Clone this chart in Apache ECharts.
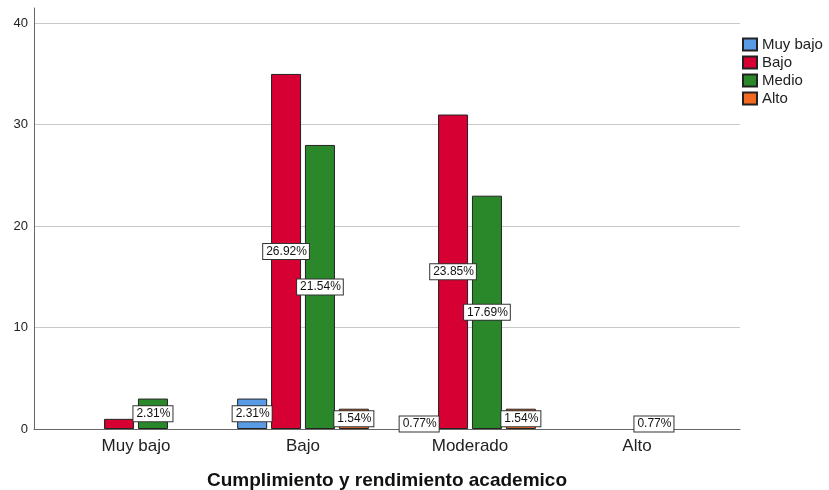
<!DOCTYPE html>
<html>
<head>
<meta charset="utf-8">
<script src="https://cdn.jsdelivr.net/npm/echarts@6/dist/echarts.min.js"></script>
<style>html,body{margin:0;padding:0;background:#fff}#c{width:829px;height:490px}</style>
</head>
<body>
<div id="c"></div>
<script>
const categories = ['Muy bajo', 'Bajo', 'Moderado', 'Alto'];
const seriesNames = ['Muy bajo', 'Bajo', 'Medio', 'Alto'];
const muyBajo = [0, 3, 1, 0];
const bajo = [1, 35, 31, 0];
const medio = [3, 28, 23, 1];
const alto = [0, 2, 2, 0];
const yTicks = [0, 10, 20, 30, 40];
const xTitle = 'Cumplimiento y rendimiento academico';
// labels hidden in the original (overlapped): [seriesIndex, categoryIndex]
const hiddenLabels = [[1, 0]];

const colors = ['#5a9be6', '#d70032', '#2a872a', '#f26a22'];
const allSeries = [muyBajo, bajo, medio, alto];
const total = allSeries.flat().reduce((a, b) => a + b, 0);
const FONT = '"Liberation Sans", Arial, sans-serif';

const chart = echarts.init(document.getElementById('c'));
const series = allSeries.map((vals, si) => ({
  name: seriesNames[si],
  type: 'bar',
  xAxisIndex: 1,
  yAxisIndex: 1,
  barWidth: 30,
  barGap: '13%',
  itemStyle: { color: colors[si], borderColor: '#222', borderWidth: 1 },
  label: {
    show: true,
    position: 'inside',
    fontFamily: FONT,
    fontSize: 12,
    color: '#111',
    backgroundColor: '#fff',
    borderColor: '#333',
    borderWidth: 1,
    padding: [2, 2, 1, 3],
    formatter: p => (p.value / total * 100).toFixed(2) + '%'
  },
  data: vals.map((v, ci) => {
    if (v === 0) return null;
    const hide = hiddenLabels.some(h => h[0] === si && h[1] === ci);
    return hide ? { value: v, label: { show: false } } : v;
  })
}));

chart.setOption({
  animation: false,
  textStyle: { fontFamily: FONT },
  legend: {
    orient: 'vertical',
    left: 742,
    top: 37,
    padding: 0,
    itemWidth: 14,
    itemHeight: 12,
    itemGap: 3,
    icon: 'rect',
    textStyle: { fontSize: 15, lineHeight: 15, color: '#222', fontFamily: FONT },
    data: seriesNames
  },
  grid: [
    { left: 34, right: 89, top: 8, bottom: 61, outerBoundsMode: 'none', containLabel: false },
    { left: 52.5, right: 108.5, top: 8, bottom: 61, outerBoundsMode: 'none', containLabel: false }
  ],
  xAxis: [
    {
      type: 'category', gridIndex: 0, data: categories,
      axisLine: { lineStyle: { color: '#666', width: 1 } },
      axisTick: { show: false }, axisLabel: { show: false },
      name: xTitle, nameLocation: 'middle', nameGap: 42,
      nameTextStyle: { fontFamily: FONT, fontSize: 19, fontWeight: 'bold', color: '#111' }
    },
    {
      type: 'category', gridIndex: 1, data: categories,
      axisLine: { show: false }, axisTick: { show: false },
      axisLabel: { fontFamily: FONT, fontSize: 17, color: '#222', margin: 9 }
    }
  ],
  yAxis: [
    {
      type: 'value', gridIndex: 0, min: yTicks[0], max: 41.5, interval: yTicks[1] - yTicks[0],
      axisLine: { show: true, lineStyle: { color: '#666', width: 1 } },
      axisTick: { show: false },
      axisLabel: { fontFamily: FONT, fontSize: 13, color: '#222', margin: 6, showMaxLabel: false },
      splitLine: { show: true, showMaxLine: false, lineStyle: { color: '#c8c8c8', width: 1 } }
    },
    {
      type: 'value', gridIndex: 1, min: yTicks[0], max: 41.5,
      show: false, splitLine: { show: false }
    }
  ],
  series: series
});
</script>
</body>
</html>
